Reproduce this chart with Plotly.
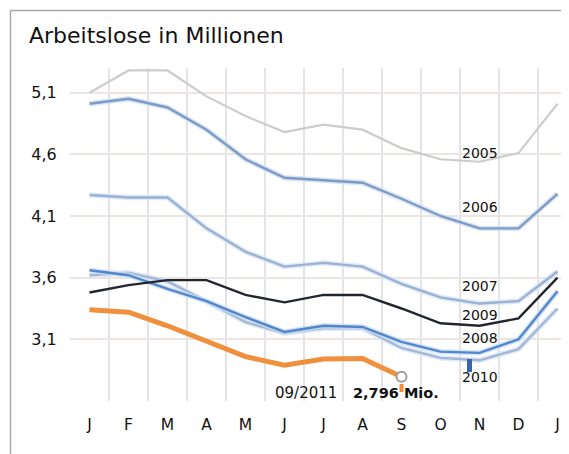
import plotly.graph_objects as go

# ---- data ----
months = ["J", "F", "M", "A", "M", "J", "J", "A", "S", "O", "N", "D", "J"]
y2005 = [5.10, 5.28, 5.28, 5.07, 4.91, 4.78, 4.84, 4.80, 4.65, 4.56, 4.54, 4.61, 5.01]
y2006 = [5.01, 5.05, 4.98, 4.80, 4.56, 4.41, 4.39, 4.37, 4.24, 4.10, 4.00, 4.00, 4.28]
y2007 = [4.27, 4.25, 4.25, 4.00, 3.81, 3.69, 3.72, 3.69, 3.55, 3.44, 3.39, 3.41, 3.65]
y2008 = [3.66, 3.62, 3.51, 3.41, 3.28, 3.16, 3.21, 3.20, 3.08, 3.00, 2.99, 3.10, 3.49]
y2009 = [3.48, 3.54, 3.58, 3.58, 3.46, 3.40, 3.46, 3.46, 3.35, 3.23, 3.21, 3.27, 3.60]
y2010 = [3.62, 3.64, 3.57, 3.41, 3.24, 3.15, 3.19, 3.19, 3.03, 2.95, 2.93, 3.02, 3.35]
y2011 = [3.34, 3.32, 3.21, 3.08, 2.96, 2.89, 2.94, 2.945, 2.796]
ytick_vals = [2.6, 3.1, 3.6, 4.1, 4.6, 5.1]
ytick_text = ["", "3,1", "3,6", "4,1", "4,6", "5,1"]
last_label = "2,796 Mio."
last_date = "09/2011"

# ---- geometry (page pixels; the page body has an 8px margin) ----
OFF = 8
PAGE_W, PAGE_H = 569, 454
W, H = PAGE_W - OFF, PAGE_H - OFF
PL, PT, PB = 70, 68, 401          # plot area in page pixels
PR = PAGE_W                        # plot area runs to the right edge
ML, MT = PL - OFF, PT - OFF
MR, MB = PAGE_W - PR, PAGE_H - PB
PW, PH = PR - PL, PB - PT
STEP = 39.0
XR = [-0.5, -0.5 + PW / STEP]
YR = [2.6, 5.3]
PPU = PH / (YR[1] - YR[0])


def dx(px):
    return XR[0] + (px - PL) / STEP


def dy(py):
    return YR[1] - (py - PT) / PPU


def paper_x(px):
    return (px - PL) / PW


def paper_y(py):
    return (PB - py) / PH


xs = list(range(len(months)))
FONT = "DejaVu Sans"

fig = go.Figure()

series = [
    ("2005", y2005, "#cccccc", 2.2, None),
    ("2006", y2006, "#7c9bc6", 2.4, "rgba(210,223,241,0.8)"),
    ("2007", y2007, "#98b1d5", 2.4, "rgba(218,229,244,0.8)"),
    ("2010", y2010, "#a3b8d6", 2.4, "rgba(218,229,244,0.8)"),
    ("2008", y2008, "#5087cd", 2.4, "rgba(205,221,241,0.8)"),
    ("2009", y2009, "#22262e", 2.4, None),
]
for name, ys, col, w, halo in series:
    if halo:
        fig.add_trace(go.Scatter(x=xs[:len(ys)], y=ys, mode="lines",
                                 line=dict(color=halo, width=w + 3),
                                 hoverinfo="skip", showlegend=False))
    fig.add_trace(go.Scatter(x=xs[:len(ys)], y=ys, mode="lines", name=name,
                             line=dict(color=col, width=w), showlegend=False))

fig.add_trace(go.Scatter(x=xs[:len(y2011)], y=y2011, mode="lines", name="2011",
                         line=dict(color="#f08f3c", width=5), showlegend=False))
fig.add_trace(go.Scatter(x=[xs[len(y2011) - 1]], y=[y2011[-1]], mode="markers",
                         marker=dict(size=10, color="white",
                                     line=dict(color="#9a9a9a", width=2)),
                         showlegend=False))

annotations = []
label_pos = {"2005": 153, "2006": 207, "2007": 286, "2009": 315, "2008": 338, "2010": 377}
for name, py in label_pos.items():
    annotations.append(dict(x=dx(479.5), y=dy(py), xref="x", yref="y", text=name,
                            showarrow=False, xanchor="center", yanchor="middle",
                            font=dict(family=FONT, size=14, color="#111111")))
annotations.append(dict(x=dx(339), y=dy(393), xref="x", yref="y", text=last_date,
                        showarrow=False, xanchor="right", yanchor="middle",
                        font=dict(family=FONT, size=15, color="#111111")))
annotations.append(dict(x=dx(351), y=dy(393), xref="x", yref="y",
                        text="<b>" + last_label + "</b>",
                        showarrow=False, xanchor="left", yanchor="middle",
                        font=dict(family=FONT, size=14.5, color="#111111")))

shapes = [
    # orange pointer under last point
    dict(type="line", xref="x", yref="y", x0=xs[len(y2011) - 1], x1=xs[len(y2011) - 1],
         y0=dy(384), y1=dy(392), line=dict(color="#f08f3c", width=4)),
    # blue pointer above 2010 label
    dict(type="line", xref="x", yref="y", x0=dx(469.5), x1=dx(469.5),
         y0=dy(359), y1=dy(372), line=dict(color="#3867a6", width=5)),
    # frame
    dict(type="line", xref="paper", yref="paper", x0=paper_x(10.5), x1=paper_x(10.5),
         y0=paper_y(10.5), y1=paper_y(PAGE_H), line=dict(color="#a8a8a8", width=1.5)),
    dict(type="line", xref="paper", yref="paper", x0=paper_x(10.5), x1=paper_x(566),
         y0=paper_y(10.5), y1=paper_y(10.5), line=dict(color="#a8a8a8", width=1.5)),
    dict(type="line", xref="paper", yref="paper", x0=paper_x(566), x1=paper_x(566),
         y0=paper_y(10.5), y1=paper_y(PAGE_H), line=dict(color="#a8a8a8", width=1.5)),
]

fig.update_layout(
    width=W, height=H,
    margin=dict(l=ML, r=MR, t=MT, b=MB, pad=0),
    paper_bgcolor="white", plot_bgcolor="white",
    title=dict(text="Arbeitslose in Millionen", xref="container", yref="container",
               x=(29 - OFF) / W, xanchor="left", y=1 - (35 - OFF) / H, yanchor="middle",
               font=dict(family=FONT, size=22, color="#111111")),
    annotations=annotations,
    shapes=shapes,
    showlegend=False,
)
fig.update_xaxes(
    range=XR, tickmode="array", tickvals=xs, ticktext=months,
    showgrid=False, zeroline=False, showline=False,
    ticks="outside", ticklen=9, tickcolor="rgba(0,0,0,0)",
    ticklabeloverflow="allow",
    tickfont=dict(family=FONT, size=15.5, color="#111111"),
    minor=dict(tickmode="array", tickvals=[i - 0.5 for i in range(len(months) + 1)],
               showgrid=True, gridcolor="#e4e4e6", gridwidth=2, ticks=""),
)
fig.update_yaxes(
    range=YR, tickmode="array", tickvals=ytick_vals, ticktext=ytick_text,
    showgrid=True, gridcolor="#ebe6e1", gridwidth=2, zeroline=False, showline=False,
    ticks="outside", ticklen=9, tickcolor="rgba(0,0,0,0)",
    tickfont=dict(family=FONT, size=16, color="#111111"),
)

fig.write_html("out.html")
